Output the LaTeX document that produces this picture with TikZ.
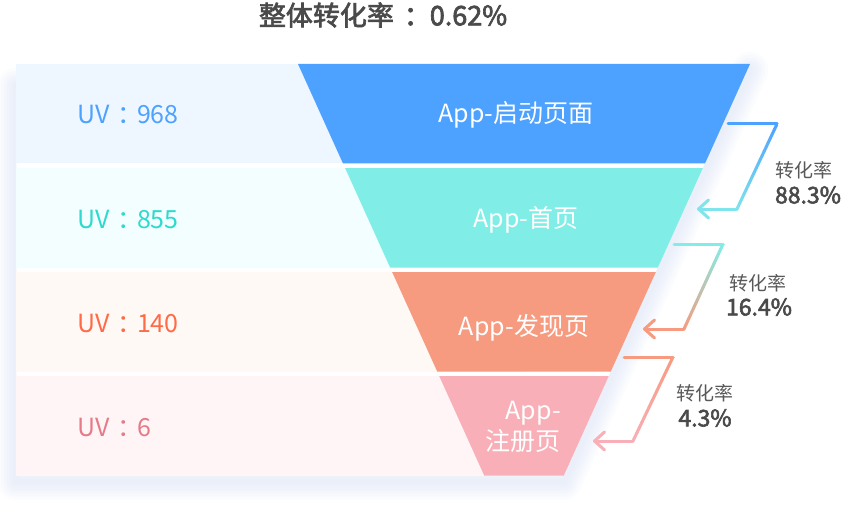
\documentclass[tikz,border=0pt]{standalone}
\usepackage{fontspec}
\setmainfont{Noto Sans CJK SC}
\newfontfamily\mediumfont{Noto Sans CJK SC}[FakeBold=2.5]
\usetikzlibrary{arrows.meta,calc}

\definecolor{funnelblue}{HTML}{4DA1FF}
\definecolor{funnelcyan}{HTML}{80EEE7}
\definecolor{funnelsalmon}{HTML}{F79B80}
\definecolor{funnelpink}{HTML}{F8AFB8}
\definecolor{bandblue}{HTML}{EEF6FF}
\definecolor{bandcyan}{HTML}{F2FEFF}
\definecolor{bandsalmon}{HTML}{FFF9F5}
\definecolor{bandpink}{HTML}{FFF5F7}
\definecolor{uvblue}{HTML}{4DA1FF}
\definecolor{uvcyan}{HTML}{2ED9CD}
\definecolor{uvsalmon}{HTML}{FF6B47}
\definecolor{uvpink}{HTML}{E67B88}
\definecolor{arrowcyan}{HTML}{7FE4EC}
\definecolor{textgray}{HTML}{4A4A4A}
\definecolor{rategray}{HTML}{595959}
\definecolor{shadowblue}{HTML}{D3DFF6}

% centred full-width colon
\newcommand{\uvcolon}{\hspace{0.3em}：\hspace{-0.2em}}

\begin{document}
\begin{tikzpicture}[
  x=1pt, y=-1pt,
  uv label/.style={anchor=west, inner sep=0pt, font=\fontsize{25}{28}\selectfont},
  stage label/.style={text=white, inner sep=0pt, font=\fontsize{25}{31}\selectfont},
  rate label/.style={text=rategray, inner sep=0pt, font=\fontsize{19}{22}\selectfont},
  rate value/.style={text=textgray, inner sep=0pt, font=\fontsize{23}{26}\selectfont\mediumfont},
  flow line/.style={line width=3pt, line cap=round},
  flow tip/.style={flow line, -{Straight Barb[length=10pt,width=18pt,round]}}
]
\fill[white] (0,0) rectangle (846,508);
\useasboundingbox (0,0) rectangle (846,508);

% soft shadow round the card
\begin{scope}[even odd rule]
  \clip (0,0) rectangle (846,508)
    (16,64) -- (750,64) -- (564,475.5) -- (16,475.5) -- cycle;
  \foreach \w in {6,12,...,36}
    \draw[shadowblue, opacity=0.09, line width=\w pt, line join=round, line cap=round, shift={(0,6)}]
      (750,64) -- (564,475.5) -- (16,475.5) -- (16,80);
\end{scope}

% pale bands
\fill[bandblue]   (16,64)  rectangle (524,163.5);
\fill[bandcyan]   (16,168) rectangle (524,267.5);
\fill[bandsalmon] (16,272) rectangle (524,371.5);
\fill[bandpink]   (16,376) rectangle (524,475.5);

% funnel
\fill[funnelblue]   (298,64)    -- (750,64)    -- (705,163.5)   -- (343,163.5)   -- cycle;
\fill[funnelcyan]   (345.1,168) -- (702.9,168) -- (657.9,267.5) -- (390.1,267.5) -- cycle;
\fill[funnelsalmon] (392.1,272) -- (655.9,272) -- (610.8,371.5) -- (437.2,371.5) -- cycle;
\fill[funnelpink]   (439.2,376) -- (608.8,376) -- (563.8,475.5) -- (484.2,475.5) -- cycle;

\node[text=textgray, font=\fontsize{27}{30}\selectfont\mediumfont] (title) at (383,15)
  {整体转化率\hspace{0.37em}：\hspace{-0.04em}0.62\%};

\node[uv label, text=uvblue]   (uv1) at (77,115) {UV\uvcolon 968};
\node[uv label, text=uvcyan]   (uv2) at (77,219) {UV\uvcolon 855};
\node[uv label, text=uvsalmon] (uv3) at (77,323) {UV\uvcolon 140};
\node[uv label, text=uvpink]   (uv4) at (77,427) {UV\uvcolon 6};

\node[stage label] (stage1) at (516,115) {App-启动页面};
\node[stage label] (stage2) at (526,220) {App-首页};
\node[stage label] (stage3) at (524,328) {App-发现页};
\node[stage label, anchor=east, align=right] (stage4) at (561,427) {App-\\注册页};

% conversion brackets
\coordinate (a1s) at (728,124); \coordinate (a1c) at (777,124);
\coordinate (a1d) at (737,209); \coordinate (a1t) at (697,209);
\coordinate (a2s) at (674,244); \coordinate (a2c) at (723,244);
\coordinate (a2d) at (684,329); \coordinate (a2t) at (643,329);
\coordinate (a3s) at (624,357); \coordinate (a3c) at (673,357);
\coordinate (a3d) at (633,441); \coordinate (a3t) at (593,441);

\draw[flow line, funnelblue] (a1s) -- (a1c);
\shade[top color=funnelblue, bottom color=arrowcyan]
  ($(a1c)+(-1.7,0)$) -- ($(a1c)+(1.7,0)$) -- ($(a1d)+(1.7,0)$) -- ($(a1d)+(-1.7,0)$) -- cycle;
\draw[flow tip, arrowcyan] (a1d) -- (a1t);

\draw[flow line, funnelcyan] (a2s) -- (a2c);
\shade[top color=funnelcyan, bottom color=funnelsalmon]
  ($(a2c)+(-1.7,0)$) -- ($(a2c)+(1.7,0)$) -- ($(a2d)+(1.7,0)$) -- ($(a2d)+(-1.7,0)$) -- cycle;
\draw[flow tip, funnelsalmon] (a2d) -- (a2t);

\draw[flow line, funnelsalmon] (a3s) -- (a3c);
\shade[top color=funnelsalmon, bottom color=funnelpink]
  ($(a3c)+(-1.7,0)$) -- ($(a3c)+(1.7,0)$) -- ($(a3d)+(1.7,0)$) -- ($(a3d)+(-1.7,0)$) -- cycle;
\draw[flow tip, funnelpink] (a3d) -- (a3t);

\node[rate label] (rate1) at (804,170) {转化率};
\node[rate value] (pct1)  at (808,195) {88.3\%};
\node[rate label] (rate2) at (758,283) {转化率};
\node[rate value] (pct2)  at (759,307) {16.4\%};
\node[rate label] (rate3) at (705,393) {转化率};
\node[rate value] (pct3)  at (705,418) {4.3\%};
\end{tikzpicture}
\end{document}
